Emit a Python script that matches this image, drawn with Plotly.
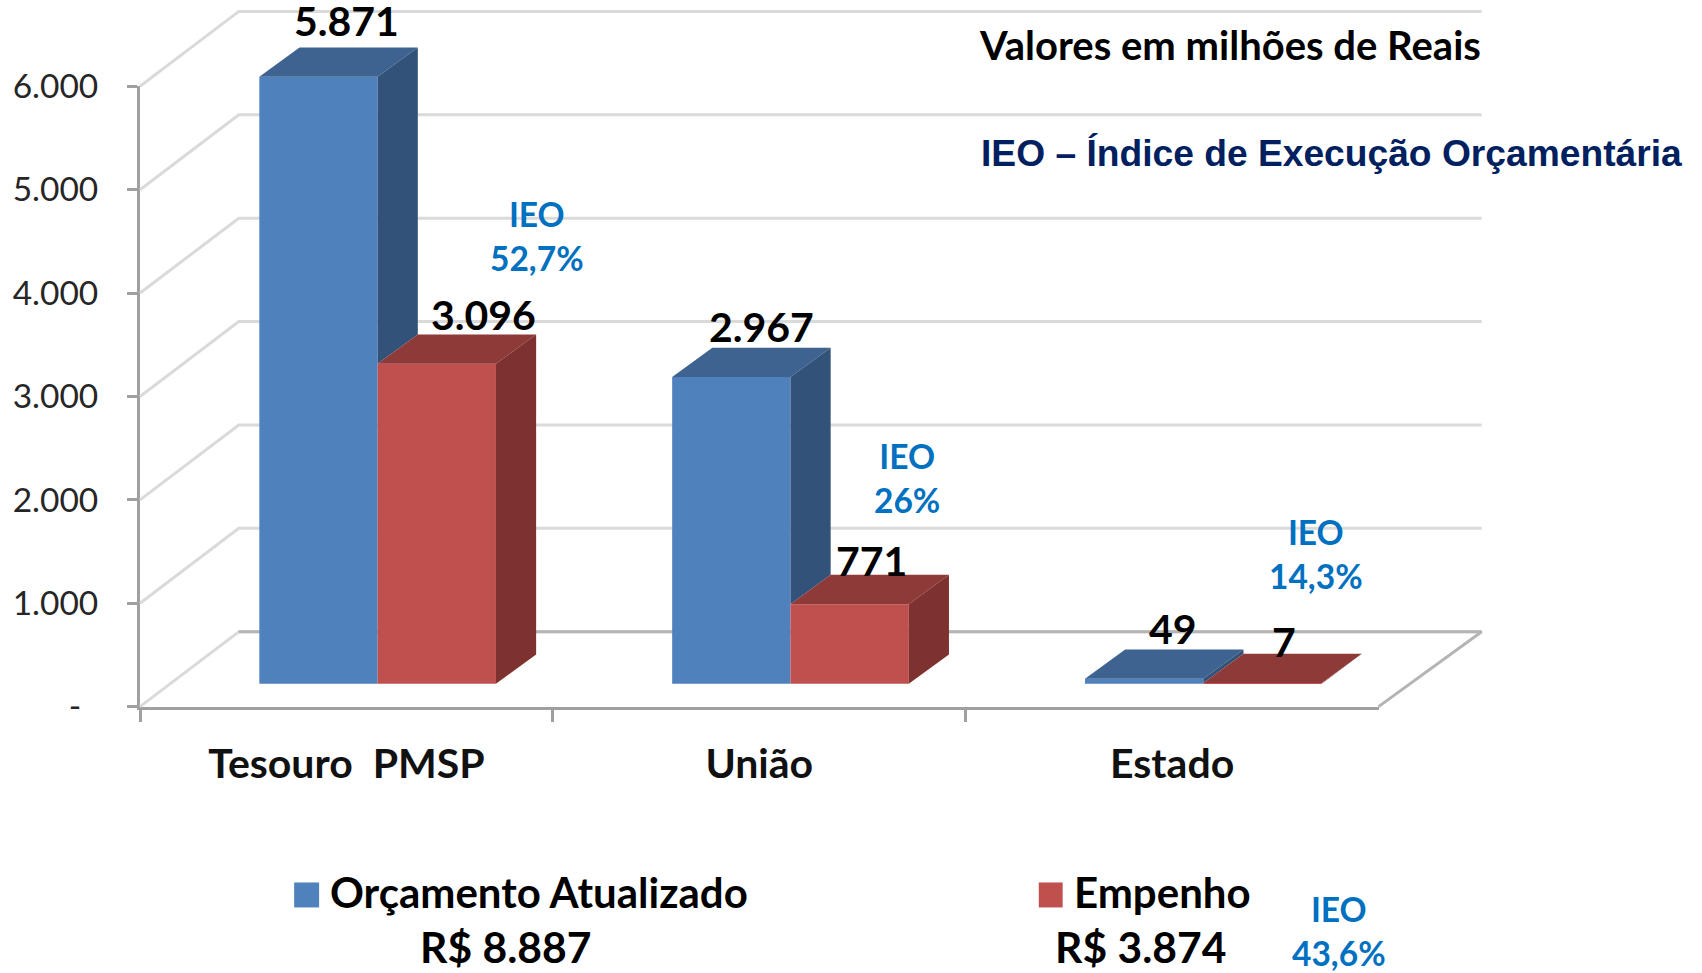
import plotly.graph_objects as go

# ---------- data ----------
categories = ["Tesouro  PMSP", "União", "Estado"]
orcamento = [5871, 2967, 49]
empenho = [3096, 771, 7]
ieo_labels = ["52,7%", "26%", "14,3%"]
tick_values = [0, 1000, 2000, 3000, 4000, 5000, 6000]
tick_labels = ["-\u00a0\u00a0", "1.000", "2.000", "3.000", "4.000", "5.000", "6.000"]
series_names = ["Orçamento Atualizado", "Empenho"]
totals = ["R$ 8.887", "R$ 3.874"]
ieo_total = "43,6%"

def br(v):
    return f"{v:,}".replace(",", ".")

# ---------- geometry ----------
W, H = 1702, 973
S = W / 1568
X0, X3 = 129 * S, 1270 * S
Y0, Y6 = 651 * S, 79.5 * S
CAT_PX = (X3 - X0) / 3
VAL_PX = (Y0 - Y6) / 6000
full_x = [-X0 / CAT_PX, (W - X0) / CAT_PX]
full_y = [-(H - Y0) / VAL_PX, Y0 / VAL_PX]

WALL_DX, WALL_DY = 91 * S / CAT_PX, 69 * S / VAL_PX
WALL_END = 3 + 95 * S / CAT_PX
BAR_DX, BAR_DY = 37 * S / CAT_PX, 27 * S / VAL_PX
BAR_LEFT, BAR_W = 0.289, 109 * S / CAT_PX
BAR_BASE = 21 * S / VAL_PX

BLUE, BLUE_TOP, BLUE_SIDE = "#4F81BD", "#3F6391", "#33527A"
RED, RED_TOP, RED_SIDE = "#C0504D", "#8E3A38", "#7D3230"
IEO_C, NAVY = "#0070C0", "#002060"
FONT = "Lato"

fig = go.Figure()

# Labelled axes subplot (x / y)
fig.add_trace(go.Scatter(x=categories, y=[0, 0, 0], mode="markers", marker=dict(opacity=0),
                         hoverinfo="skip", showlegend=False, xaxis="x", yaxis="y"))

# Walls and floor, behind the bars (x2 / y2)
gx, gy = [], []
for t in tick_values:
    gx += [0, WALL_DX, WALL_END, None]
    gy += [t, t + WALL_DY, t + WALL_DY, None]
fig.add_trace(go.Scatter(x=gx, y=gy, mode="lines", line=dict(color="#DADADA", width=3),
                         hoverinfo="skip", showlegend=False, xaxis="x2", yaxis="y2"))
fig.add_trace(go.Scatter(x=[WALL_DX, WALL_END, 3], y=[WALL_DY, WALL_DY, 0], mode="lines",
                         line=dict(color="#B4B4B4", width=3),
                         hoverinfo="skip", showlegend=False, xaxis="x2", yaxis="y2"))

# Front faces: real bars (x3 / y3)
for offset, vals, name, col in ((0, orcamento, series_names[0], BLUE), (1, empenho, series_names[1], RED)):
    fig.add_trace(go.Bar(x=[k + BAR_LEFT + BAR_W * (offset + 0.5) for k in range(3)], y=vals,
                         base=BAR_BASE, width=BAR_W, name=name, marker=dict(color=col, line=dict(width=0)),
                         showlegend=False, xaxis="x3", yaxis="y3"))

def poly(color, xs, ys):
    fig.add_trace(go.Scatter(x=xs, y=ys, mode="lines", fill="toself", fillcolor=color,
                             line=dict(width=0, color=color), hoverinfo="skip", showlegend=False,
                             xaxis="x3", yaxis="y3"))

def faces(offset, vals, lows, top_col, side_col):
    tx, ty, sx, sy = [], [], [], []
    for k, (v, lo) in enumerate(zip(vals, lows)):
        l = k + BAR_LEFT + BAR_W * offset
        r = l + BAR_W
        t = v + BAR_BASE
        b = lo + BAR_BASE
        tx += [l, r, r + BAR_DX, l + BAR_DX, l, None]
        ty += [t, t, t + BAR_DY, t + BAR_DY, t, None]
        sx += [r, r + BAR_DX, r + BAR_DX, r, r, None]
        sy += [t, t + BAR_DY, b + BAR_DY, b, t, None]
    poly(top_col, tx, ty)
    poly(side_col, sx, sy)

faces(0, orcamento, empenho, BLUE_TOP, BLUE_SIDE)
faces(1, empenho, [0, 0, 0], RED_TOP, RED_SIDE)

ann = []
def data_note(x, y, text, size, color="black", xs=0, ys=0, bold=True):
    ann.append(dict(x=x, y=y, xref="x3", yref="y3", text=text, showarrow=False, xshift=xs, yshift=ys,
                    font=dict(family=FONT, size=size, color=color, weight=700 if bold else 400),
                    xanchor="center", yanchor="middle"))

def page_note(px, py, text, size, color="black", anchor="center", family=FONT, weight=700):
    ann.append(dict(x=px / W, y=1 - py / H, xref="paper", yref="paper", text=text, showarrow=False,
                    font=dict(family=family, size=size, color=color, weight=weight),
                    xanchor=anchor, yanchor="middle"))

# Value labels: shifts in px from the centre of the bar's top front edge
blue_nudge = [(26, 52), (28, 47), (27, 46)]
red_nudge = [(43, 45), (20, 40), (20, 38)]
for k in range(3):
    for off, vals, nudge in ((0, orcamento, blue_nudge), (1, empenho, red_nudge)):
        cx = k + BAR_LEFT + BAR_W * (off + 0.5)
        data_note(cx, vals[k] + BAR_BASE, br(vals[k]), 41, xs=nudge[k][0] * S, ys=nudge[k][1] * S)

# IEO notes
ieo_pos = [(495, 217), (836, 440), (1212, 510)]
for (px, py), lab in zip(ieo_pos, ieo_labels):
    page_note(px * S, py * S, f"IEO<br>{lab}", 33.5, IEO_C)
page_note(1234 * S, 858 * S, f"IEO<br>{ieo_total}", 33.5, IEO_C)

# Headings
page_note(900.5 * S, 41 * S, "Valores em milhões de Reais", 40, anchor="left")
page_note(902 * S, 141 * S, "IEO – Índice de Execução Orçamentária", 37.2, NAVY, anchor="left", family="Liberation Sans")

# Legend-like block
page_note(302 * S, 822 * S, series_names[0], 42, anchor="left", weight=700)
page_note(988 * S, 822 * S, series_names[1], 42, anchor="left", weight=700)
page_note(466 * S, 872 * S, totals[0], 42.6)
page_note(1051 * S, 872 * S, totals[1], 42.6)

shapes = [
    dict(type="rect", xref="paper", yref="paper", x0=271 * S / W, x1=294 * S / W, y0=1 - 836 * S / H, y1=1 - 813 * S / H,
         fillcolor=BLUE, line=dict(width=0)),
    dict(type="rect", xref="paper", yref="paper", x0=957 * S / W, x1=979 * S / W, y0=1 - 836 * S / H, y1=1 - 813 * S / H,
         fillcolor=RED, line=dict(width=0)),
]

hidden = dict(visible=False, showgrid=False, zeroline=False, fixedrange=True, automargin=False)
AXIS_C = "#A0A0A0"
fig.update_layout(
    width=W, height=H, margin=dict(l=0, r=0, t=0, b=0, pad=0),
    paper_bgcolor="white", plot_bgcolor="rgba(0,0,0,0)", barmode="overlay", showlegend=False,
    xaxis=dict(type="category", categoryorder="array", categoryarray=categories, automargin=False,
               domain=[X0 / W, X3 / W], range=[-0.5, 2.5], tickson="boundaries", ticks="outside",
               ticklen=12, tickwidth=3, tickcolor=AXIS_C, showline=True, linecolor=AXIS_C, linewidth=3,
               showgrid=False, zeroline=False, ticklabelstandoff=19,
               tickfont=dict(family=FONT, size=41, color="#111111", weight=700), anchor="y"),
    yaxis=dict(domain=[1 - Y0 / H, 1 - Y6 / H], range=[0, 6000], tickvals=tick_values, ticktext=tick_labels,
               automargin=False,
               ticks="outside", ticklen=10, tickwidth=3, tickcolor=AXIS_C, showline=True, linecolor=AXIS_C,
               linewidth=3, showgrid=False, zeroline=False, ticklabelstandoff=22,
               tickfont=dict(family=FONT, size=33.5, color="#262626"), anchor="x"),
    xaxis2=dict(domain=[0, 1], range=full_x, anchor="y2", **hidden),
    yaxis2=dict(domain=[0, 1], range=full_y, anchor="x2", **hidden),
    xaxis3=dict(domain=[0, 1], range=full_x, anchor="y3", **hidden),
    yaxis3=dict(domain=[0, 1], range=full_y, anchor="x3", **hidden),
    annotations=ann, shapes=shapes,
)
fig.write_html("out.html", config=dict(displayModeBar=False),
               post_script="document.body.style.margin='0';document.documentElement.style.overflow='hidden';")
